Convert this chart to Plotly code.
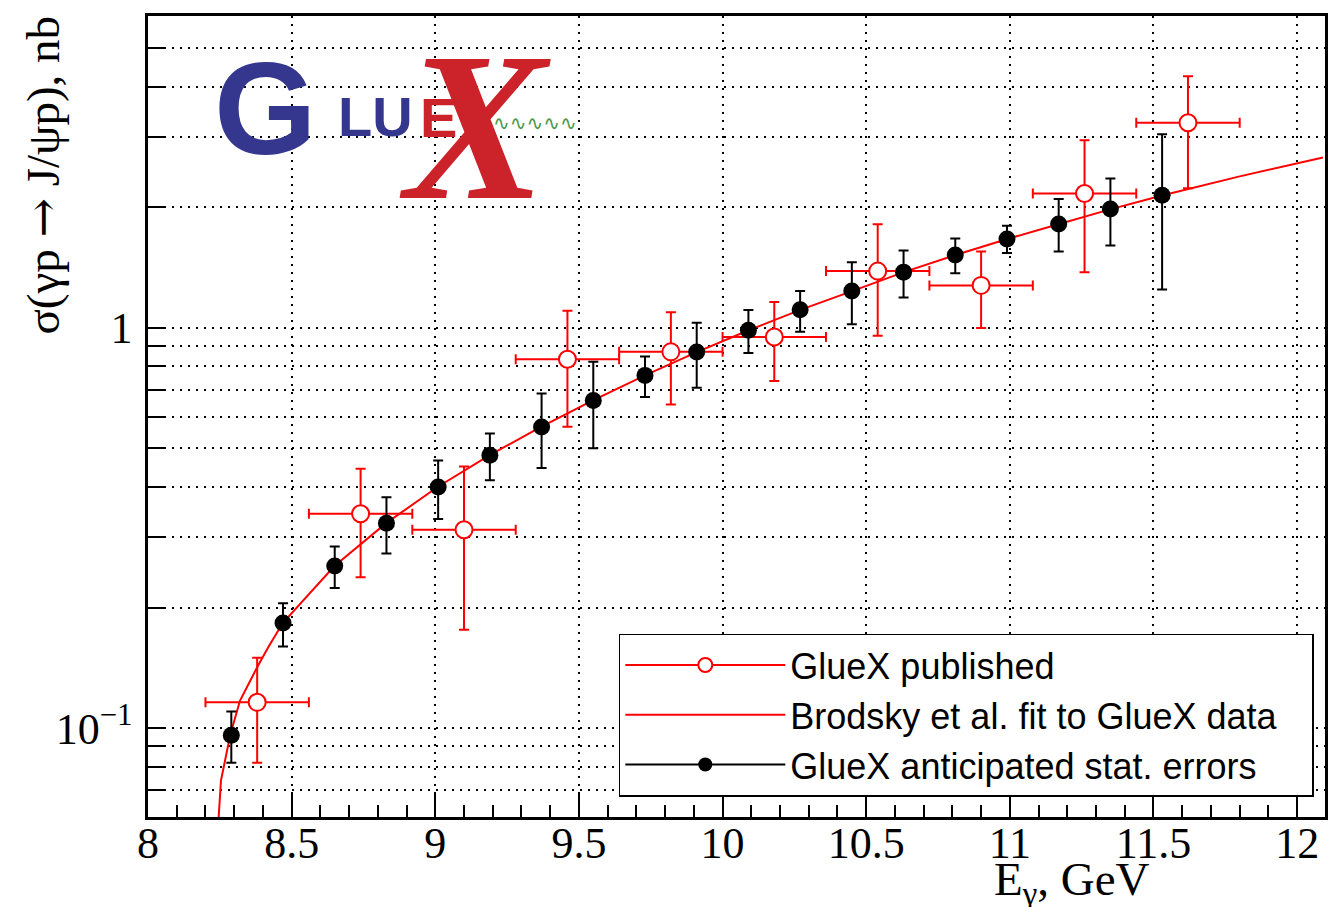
import numpy as np
import plotly.graph_objects as go

# ---------------- data ----------------
black_E = [8.29, 8.47, 8.65, 8.83, 9.01, 9.19, 9.37, 9.55, 9.73, 9.91,
           10.09, 10.27, 10.45, 10.63, 10.81, 10.99, 11.17, 11.35, 11.53]
black_sigma = [0.096, 0.183, 0.254, 0.325, 0.400, 0.480, 0.565, 0.658, 0.760, 0.869,
               0.985, 1.109, 1.234, 1.376, 1.519, 1.665, 1.814, 1.977, 2.142]
black_hi = [0.110, 0.205, 0.284, 0.377, 0.466, 0.544, 0.685, 0.822, 0.847, 1.029,
            1.107, 1.234, 1.457, 1.558, 1.669, 1.797, 2.094, 2.357, 3.040]
black_lo = [0.082, 0.160, 0.224, 0.273, 0.333, 0.416, 0.446, 0.500, 0.671, 0.708,
            0.864, 0.976, 1.020, 1.190, 1.368, 1.537, 1.549, 1.603, 1.246]

pub_E = [8.38, 8.74, 9.10, 9.46, 9.82, 10.18, 10.54, 10.90, 11.26, 11.62]
pub_dE = [0.18, 0.18, 0.18, 0.18, 0.18, 0.18, 0.18, 0.18, 0.18, 0.18]
pub_sigma = [0.116, 0.343, 0.313, 0.834, 0.870, 0.948, 1.384, 1.275, 2.163, 3.249]
pub_hi = [0.150, 0.444, 0.450, 1.102, 1.092, 1.159, 1.811, 1.549, 2.937, 4.245]
pub_lo = [0.082, 0.238, 0.176, 0.566, 0.643, 0.736, 0.954, 0.998, 1.376, 2.230]

fit_E = [8.243, 8.246, 8.254, 8.286, 8.32, 8.38, 8.42, 8.469, 8.649, 8.829, 9.008,
         9.188, 9.368, 9.549, 9.730, 9.910, 10.091, 10.273, 10.451, 10.631,
         10.811, 10.991, 11.172, 11.352, 11.533, 11.80, 12.09]
fit_sigma = [0.045, 0.060, 0.074, 0.096, 0.117, 0.142, 0.160, 0.183, 0.254, 0.325, 0.400,
             0.480, 0.565, 0.658, 0.760, 0.869, 0.985, 1.109, 1.234, 1.376,
             1.519, 1.665, 1.814, 1.977, 2.142, 2.386, 2.66]

x_ticks = [8, 8.5, 9, 9.5, 10, 10.5, 11, 11.5, 12]
x_ticktext = ["8", "8.5", "9", "9.5", "10", "10.5", "11", "11.5", "12"]
y_ticks = [0.07, 0.08, 0.09, 0.1, 0.2, 0.3, 0.4, 0.5, 0.6, 0.7, 0.8, 0.9, 1, 2, 3, 4, 5]
y_major = [0.1, 1]
y_major_text = {0.1: "10<sup>\u22121</sup>", 1: "1"}

legend_names = ["GlueX published", "Brodsky et al. fit to GlueX data",
                "GlueX anticipated stat. errors"]

SERIF = "Liberation Serif, Times New Roman, serif"
SANS = "Liberation Sans, Arial, Helvetica, sans-serif"

fig = go.Figure()

# fit curve
fig.add_trace(go.Scatter(x=fit_E, y=fit_sigma, mode="lines",
                         line=dict(color="#ff0000", width=2), showlegend=False,
                         hoverinfo="skip"))

# published GlueX
fig.add_trace(go.Scatter(
    x=pub_E, y=pub_sigma, mode="markers", showlegend=False,
    marker=dict(symbol="circle", size=17, color="white",
                line=dict(color="#ff0000", width=2)),
    error_x=dict(type="data", array=pub_dE, color="#ff0000", thickness=2, width=5),
    error_y=dict(type="data", symmetric=False,
                 array=[h - s for h, s in zip(pub_hi, pub_sigma)],
                 arrayminus=[s - l for s, l in zip(pub_sigma, pub_lo)],
                 color="#ff0000", thickness=2, width=5)))

# anticipated
fig.add_trace(go.Scatter(
    x=black_E, y=black_sigma, mode="markers", showlegend=False,
    marker=dict(symbol="circle", size=17, color="black"),
    error_y=dict(type="data", symmetric=False,
                 array=[h - s for h, s in zip(black_hi, black_sigma)],
                 arrayminus=[s - l for s, l in zip(black_sigma, black_lo)],
                 color="black", thickness=2, width=5)))

# legend entries
PAD = "\u00a0\u00a0\u00a0"
fig.add_trace(go.Scatter(x=[None], y=[None], mode="lines+markers", name=legend_names[0],
                         line=dict(color="#ff0000", width=2),
                         marker=dict(symbol="circle", size=14, color="white",
                                     line=dict(color="#ff0000", width=2))))
fig.add_trace(go.Scatter(x=[None], y=[None], mode="lines", name=legend_names[1] + PAD,
                         line=dict(color="#ff0000", width=2)))
fig.add_trace(go.Scatter(x=[None], y=[None], mode="lines+markers", name=legend_names[2],
                         line=dict(color="black", width=2),
                         marker=dict(symbol="circle", size=14, color="black")))

ymin, ymax = 0.06, 6.0
fig.update_layout(
    width=1333, height=899,
    margin=dict(l=140, r=16, t=5, b=90),
    paper_bgcolor="white", plot_bgcolor="white",
    showlegend=True,
    legend=dict(x=0.400, y=0.229, xanchor="left", yanchor="top",
                bgcolor="white", bordercolor="black", borderwidth=1.5,
                font=dict(family=SANS, size=36, color="black"),
                itemwidth=160, tracegroupgap=0),
    xaxis=dict(range=[8, 12.097], tickvals=x_ticks, ticktext=x_ticktext,
               ticks="inside", ticklen=24, tickwidth=1.5, tickcolor="black",
               showline=True, linewidth=2.5, linecolor="black", mirror=True,
               showgrid=True, gridcolor="black", gridwidth=1.5, griddash="2px,6px",
               zeroline=False, ticklabelstandoff=-15,
               tickfont=dict(family=SERIF, size=44, color="black"),
               minor=dict(dtick=0.1, tick0=8, ticks="inside", ticklen=12,
                          tickwidth=1.5, tickcolor="black", showgrid=False)),
    yaxis=dict(type="log", range=[np.log10(ymin), np.log10(ymax)],
               tickvals=y_ticks,
               ticktext=[y_major_text.get(v, "") for v in y_ticks],
               ticks="inside", ticklen=18, tickwidth=1.5, tickcolor="black",
               showline=True, linewidth=2.5, linecolor="black", mirror=True,
               showgrid=True, gridcolor="black", gridwidth=1.5, griddash="2px,6px",
               zeroline=False, ticklabelstandoff=4,
               tickfont=dict(family=SERIF, size=44, color="black")),
    yaxis2=dict(type="log", range=[np.log10(ymin), np.log10(ymax)],
                overlaying="y", side="left", tickvals=y_major,
                ticks="inside", ticklen=35, tickwidth=1.5, tickcolor="black",
                showticklabels=False, showgrid=False, zeroline=False,
                showline=False),
)

# axis titles
fig.add_annotation(text="\u03c3(\u03b3p <span style=\"font-family:DejaVu Serif\">\u2192</span> J/\u03c8p), nb",
                   textangle=-90,
                   xref="paper", yref="paper", x=0, y=1, xanchor="center", yanchor="top",
                   xshift=-106, yshift=2, showarrow=False,
                   font=dict(family=SERIF, size=47, color="black"))
fig.add_annotation(text="E<sub>\u03b3</sub>, GeV",
                   xref="paper", yref="paper", x=0.853, y=0, xanchor="right", yanchor="middle",
                   yshift=-65, showarrow=False,
                   font=dict(family=SERIF, size=47, color="black"))

# GlueX logo (as text)
BLUE = "#35378f"
LRED = "#cc2229"
def logo(text, x, y, size, color, family=SANS, style="normal"):
    fig.add_annotation(text=text, xref="paper", yref="paper", x=x, y=y,
                       xanchor="center", yanchor="middle", showarrow=False,
                       font=dict(family=family, size=size, color=color, style=style))

logo("<b>X</b>", 0.278, 0.862, 212, LRED, family="Liberation Serif", style="italic")
logo("<b>G</b>", 0.1000, 0.8844, 132, BLUE)
logo("<b>LU</b>", 0.1929, 0.8740, 56, BLUE)
logo("<b>E</b>", 0.2472, 0.8730, 56, LRED)
logo("\u223f\u223f\u223f\u223f\u223f", 0.3288, 0.8660, 20, "#4a9a4a", family="DejaVu Sans")

fig.write_html("out.html")
